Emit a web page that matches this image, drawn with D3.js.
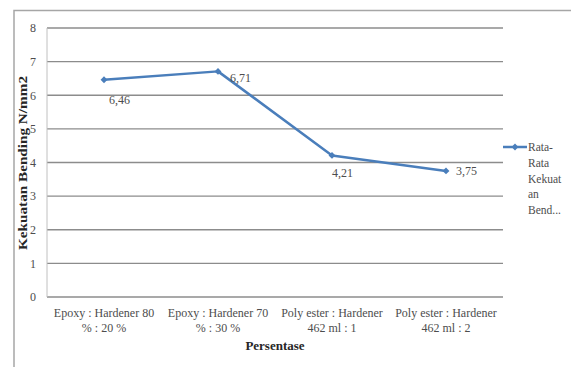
<!DOCTYPE html>
<html>
<head>
<meta charset="utf-8">
<script src="https://cdn.jsdelivr.net/npm/d3@7"></script>
<style>
  html, body { margin: 0; padding: 0; background: #fff; }
  svg { display: block; }
</style>
</head>
<body>
<svg id="chart" width="571" height="367" font-family="'Liberation Serif', 'Times New Roman', serif"></svg>
<script>
// Average bending strength per mixture
const categories = [
  ["Epoxy : Hardener 80", "% : 20 %"],
  ["Epoxy : Hardener 70", "% : 30 %"],
  ["Poly ester : Hardener", "462 ml : 1"],
  ["Poly ester : Hardener", "462 ml : 2"]
];
const values = [6.46, 6.71, 4.21, 3.75];
const valueLabels = ["6,46", "6,71", "4,21", "3,75"];
const yTicks = [0, 1, 2, 3, 4, 5, 6, 7, 8];
const legendLines = ["Rata-", "Rata", "Kekuat", "an", "Bend..."];
const yTitle = "Kekuatan Bending N/mm2";
const xTitle = "Persentase";

const FONT = "'Liberation Serif', 'Times New Roman', serif";
const svg = d3.select("#chart");
const lineColor = "#4a7ebb";
const gridColor = "#8c8c8c";
const textColor = "#4d4d4d";

// Chart frame (top and left edges)
svg.append("path")
  .attr("d", "M14,367V10.5H571")
  .attr("fill", "none")
  .attr("stroke", "#a6a6a6")
  .attr("stroke-width", 1.5);

const plot = { left: 47, right: 503, top: 28, bottom: 297 };

const x = d3.scaleBand()
  .domain(d3.range(categories.length))
  .range([plot.left, plot.right]);

const y = d3.scaleLinear()
  .domain([0, 8])
  .range([plot.bottom, plot.top]);

// Horizontal gridlines
svg.append("g")
  .selectAll("line")
  .data(yTicks)
  .join("line")
  .attr("x1", plot.left)
  .attr("x2", plot.right)
  .attr("y1", d => y(d))
  .attr("y2", d => y(d))
  .attr("stroke", gridColor)
  .attr("stroke-width", 1.3);

// Left axis line
svg.append("line")
  .attr("x1", plot.left).attr("x2", plot.left)
  .attr("y1", plot.top).attr("y2", plot.bottom)
  .attr("stroke", "#c0c0c0")
  .attr("stroke-width", 1);

// Y axis tick labels
const yAxis = d3.axisLeft(y).tickValues(yTicks).tickSize(0).tickPadding(11);
const gy = svg.append("g")
  .attr("transform", `translate(${plot.left},0)`)
  .call(yAxis)
  .attr("font-family", FONT)
  .attr("font-size", 12);
gy.select(".domain").remove();
gy.selectAll("text").attr("fill", textColor);

// X axis category labels (two lines each)
const xl = svg.append("g")
  .selectAll("text")
  .data(categories)
  .join("text")
  .attr("x", (d, i) => x(i) + x.bandwidth() / 2)
  .attr("y", 317)
  .attr("text-anchor", "middle")
  .attr("font-family", FONT)
  .attr("font-size", 12)
  .attr("fill", textColor);
xl.selectAll("tspan")
  .data(d => d)
  .join("tspan")
  .attr("x", function () { return d3.select(this.parentNode).attr("x"); })
  .attr("dy", (d, i) => i === 0 ? 0 : 15)
  .text(d => d);

// Axis titles
svg.append("text")
  .attr("x", 275)
  .attr("y", 350)
  .attr("text-anchor", "middle")
  .attr("font-family", FONT)
  .attr("font-size", 13)
  .attr("font-weight", "bold")
  .attr("fill", "#262626")
  .text(xTitle);

svg.append("text")
  .attr("transform", "translate(27,163) rotate(-90)")
  .attr("text-anchor", "middle")
  .attr("font-family", FONT)
  .attr("font-size", 13)
  .attr("font-weight", "bold")
  .attr("fill", "#262626")
  .attr("textLength", 174)
  .attr("lengthAdjust", "spacingAndGlyphs")
  .text(yTitle);

// Series line
const cx = i => x(i) + x.bandwidth() / 2;
const line = d3.line()
  .x((d, i) => cx(i))
  .y(d => y(d));

svg.append("path")
  .datum(values)
  .attr("d", line)
  .attr("fill", "none")
  .attr("stroke", lineColor)
  .attr("stroke-width", 2.5)
  .attr("stroke-linejoin", "round");

// Diamond markers
const diamond = d3.symbol().type(d3.symbolDiamond2).size(30);
svg.append("g")
  .selectAll("path")
  .data(values)
  .join("path")
  .attr("transform", (d, i) => `translate(${cx(i)},${y(d)})`)
  .attr("d", diamond)
  .attr("fill", lineColor);

// Data labels
const labelOffsets = [[5, 24], [12, 11], [0, 22], [10, 4]];
svg.append("g")
  .selectAll("text")
  .data(values)
  .join("text")
  .attr("x", (d, i) => cx(i) + labelOffsets[i][0])
  .attr("y", (d, i) => y(d) + labelOffsets[i][1])
  .attr("font-family", FONT)
  .attr("font-size", 12)
  .attr("fill", textColor)
  .text((d, i) => valueLabels[i]);

// Legend
const lg = svg.append("g");
lg.append("line")
  .attr("x1", 503).attr("x2", 527)
  .attr("y1", 147).attr("y2", 147)
  .attr("stroke", lineColor)
  .attr("stroke-width", 2.5);
lg.append("path")
  .attr("transform", "translate(515,147)")
  .attr("d", diamond)
  .attr("fill", lineColor);
lg.selectAll("text")
  .data(legendLines)
  .join("text")
  .attr("x", 528)
  .attr("y", (d, i) => 151 + i * 15.8)
  .attr("font-family", FONT)
  .attr("font-size", 11.5)
  .attr("fill", textColor)
  .text(d => d);
</script>
</body>
</html>
